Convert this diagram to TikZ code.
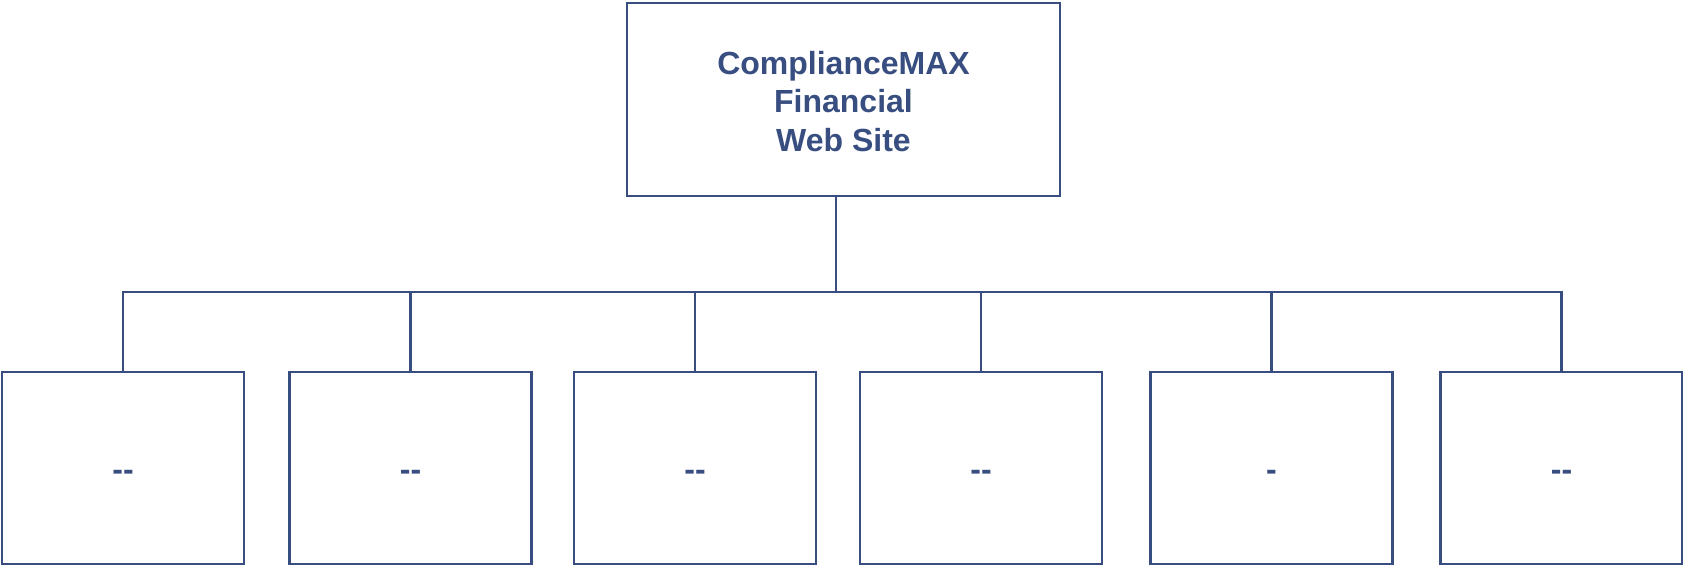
\documentclass[tikz,border=0pt]{standalone}
\usepackage{fontspec}
\setmainfont{Liberation Sans}
\usetikzlibrary{positioning}
\definecolor{chartblue}{RGB}{56,78,128}
\def\busy{292}

\begin{document}
\begin{tikzpicture}[x=0.5pt,y=-0.5pt,draw=chartblue,line width=1.3pt]
  \tikzstyle{unit}=[rectangle,draw,fill=white,text=chartblue,inner sep=0pt,outer sep=0pt,
    font=\fontsize{16}{19.3}\selectfont\bfseries]
  \tikzstyle{head unit}=[unit,minimum width=216.5pt,minimum height=96.5pt]
  \tikzstyle{sub unit}=[unit,minimum width=121pt,minimum height=96pt]

  \useasboundingbox (0,0) rectangle (1683,567);

  % Draw the top box
  \node[head unit] (T) at (843.5,99.5)
    {\raisebox{-2.7pt}[\height][\depth]{\begin{tabular}{@{}c@{}}ComplianceMAX\\Financial\\Web Site\end{tabular}}};

  % Draw the lower boxes
  \foreach \name / \x / \txt in {1/123/{-{}-},2/410.5/{-{}-},3/695/{-{}-},
                                  4/981/{-{}-},5/1271.5/{-},6/1561.5/{-{}-}}
  \node[sub unit] (C-\name) at (\x,468) {\raisebox{-3.75pt}[\height][0pt]{\txt}};

  % Connect boxes
  \coordinate (bus) at (836,\busy);
  \draw ([xshift=-3.75pt]T.south) -- (bus);
  \draw[line cap=rect] (C-1.north |- bus) -- (C-6.north |- bus);
  \foreach \name in {1,...,6}
  \draw (C-\name.north) -- (C-\name.north |- bus);
\end{tikzpicture}
\end{document}
